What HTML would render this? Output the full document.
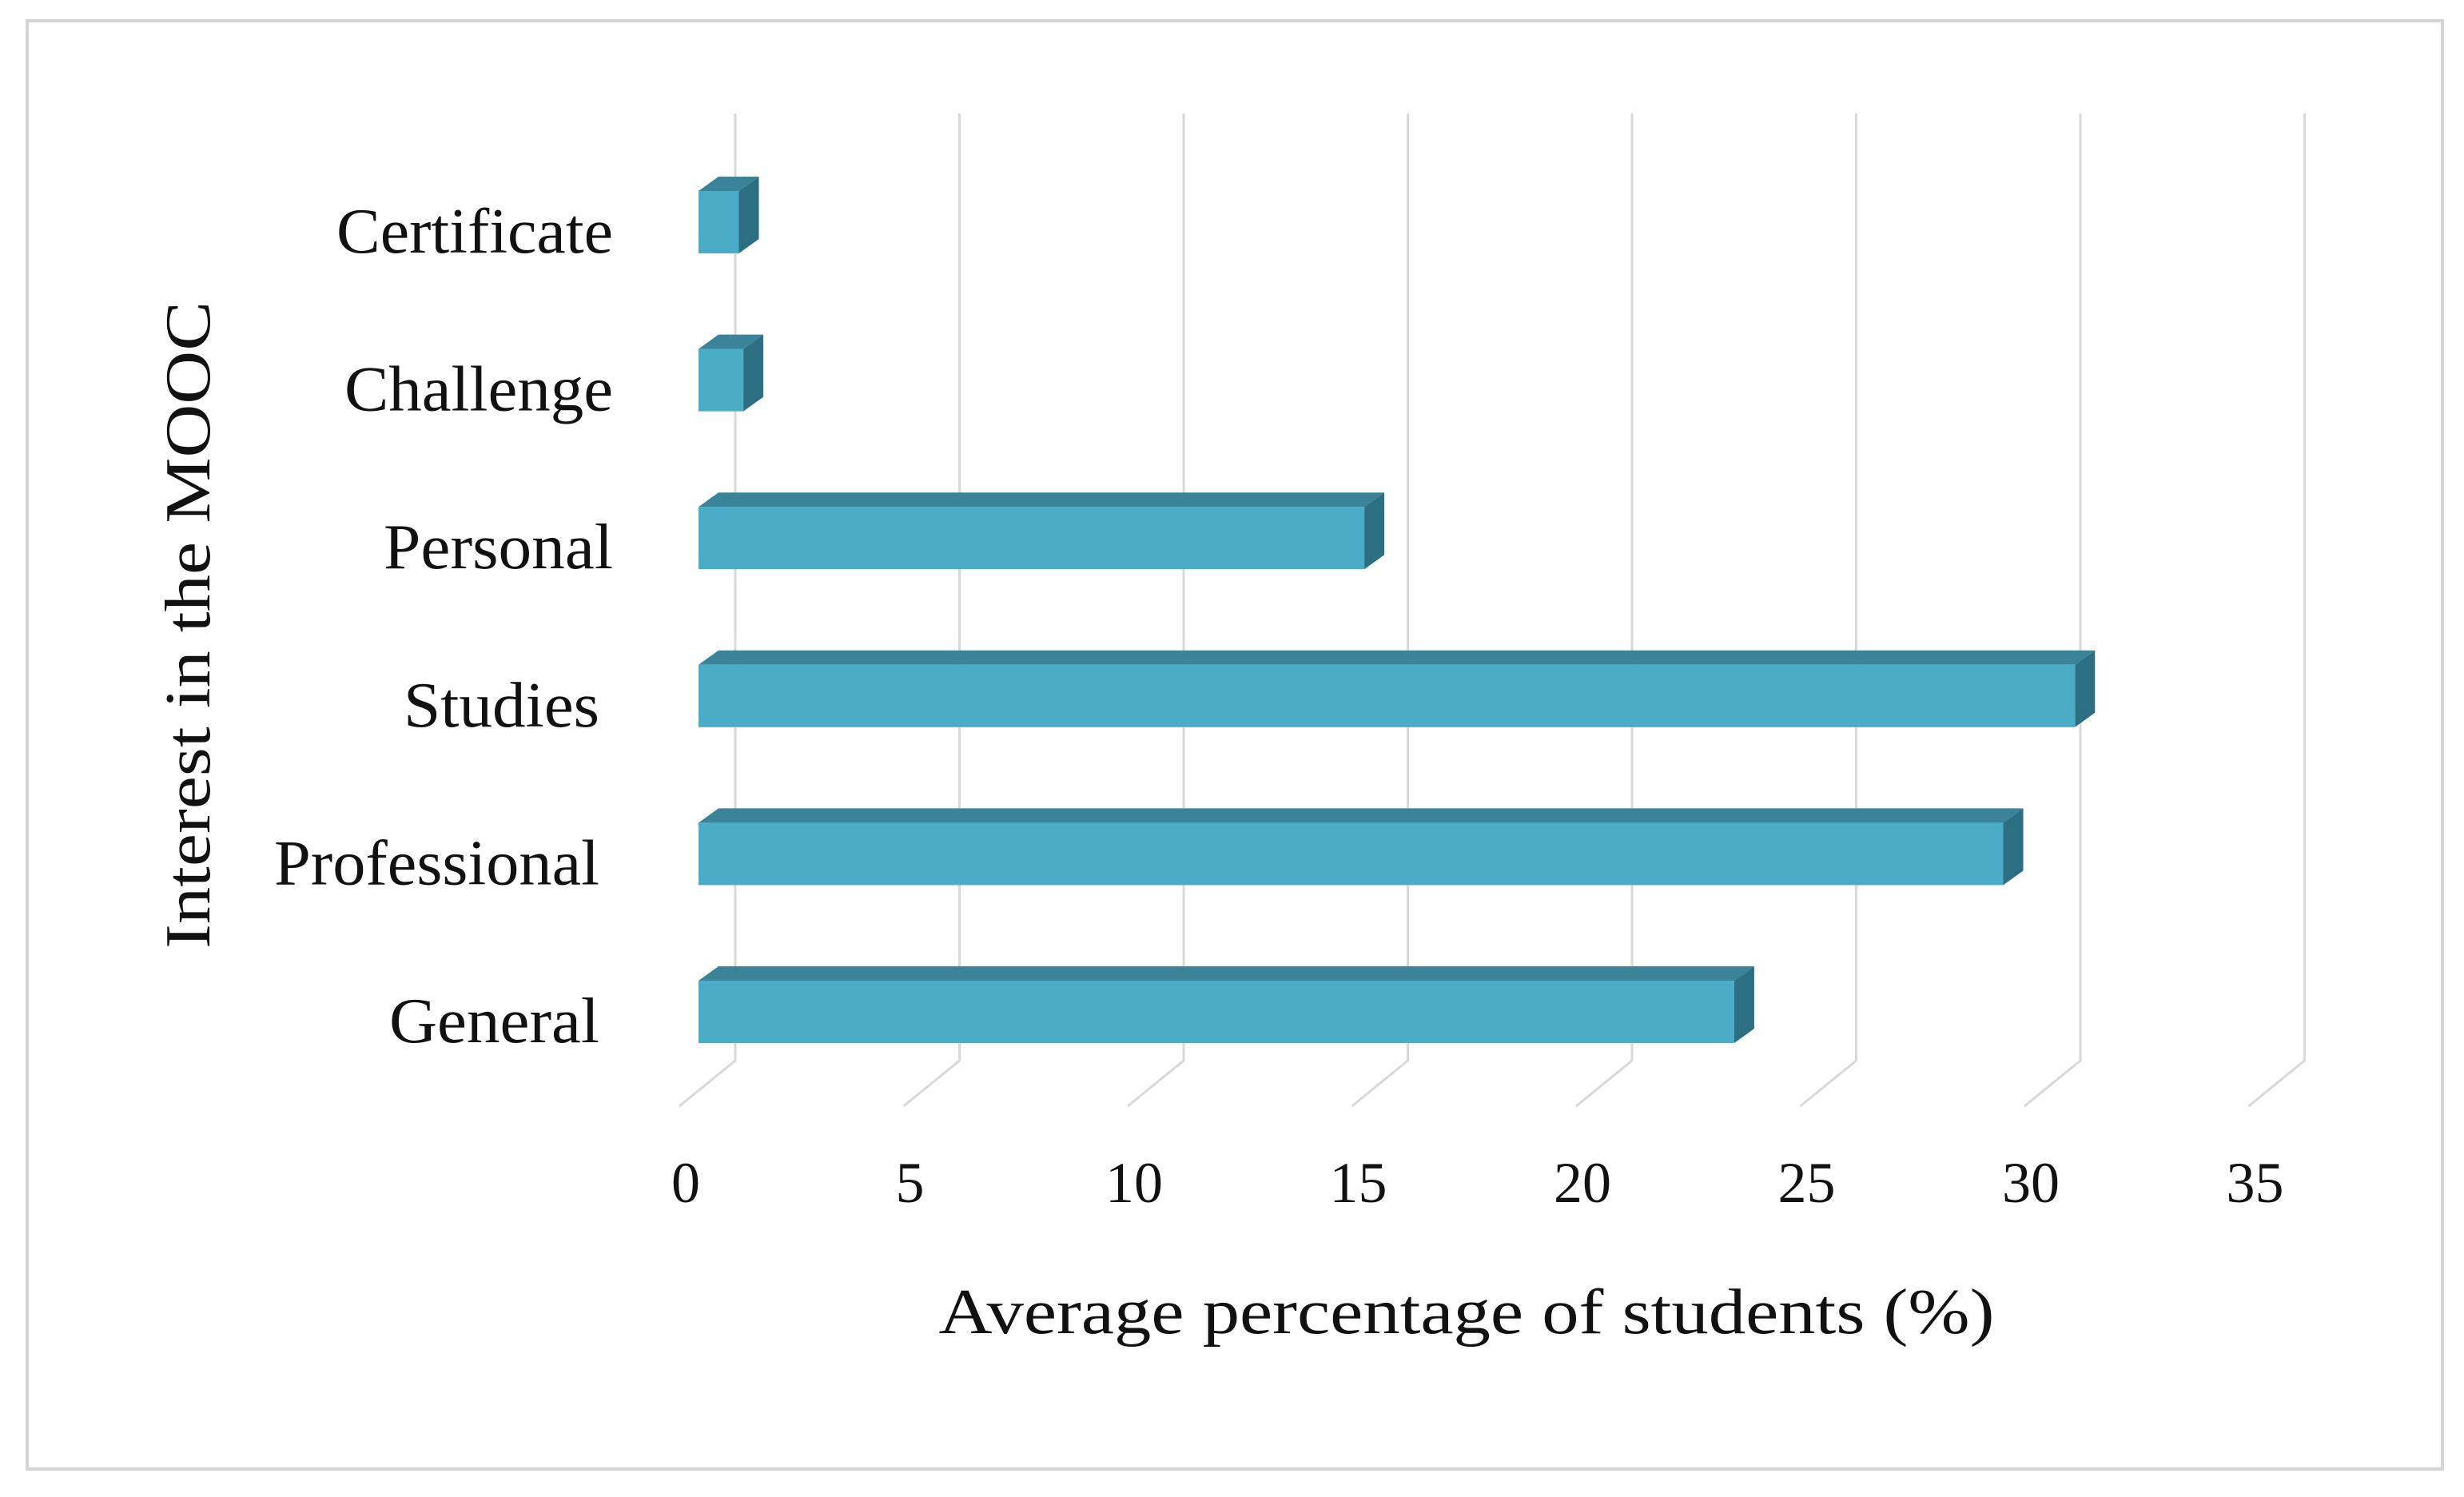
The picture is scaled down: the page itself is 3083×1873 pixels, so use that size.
<!DOCTYPE html>
<html><head><meta charset="utf-8"><style>
html,body{margin:0;padding:0;background:#fff;}
svg{display:block;}
text{font-family:"Liberation Serif",serif;fill:#111;}
</style></head><body>
<svg id="chart" width="3083" height="1873" viewBox="0 0 3083 1873" xmlns="http://www.w3.org/2000/svg">
<rect x="34" y="26" width="3022" height="1812" fill="#fff" stroke="#d4d4d4" stroke-width="4"/>
<g id="grid"></g>
<g id="bars"></g>
<g id="labels"></g>
<text transform="translate(262,782) rotate(-90)" text-anchor="middle" font-size="80" textLength="810" lengthAdjust="spacingAndGlyphs">Interest in the MOOC</text>
<text x="1835" y="1668" text-anchor="middle" font-size="80" textLength="1321" lengthAdjust="spacingAndGlyphs">Average percentage of students (%)</text>
</svg>
<script>
const categories = ["Certificate","Challenge","Personal","Studies","Professional","General"];
const values = [0.9, 1.0, 14.85, 30.7, 29.1, 23.1];
const ticks = [0,5,10,15,20,25,30,35];
const labelRight = [767,767,767,750,750,750];
const labelWidth = [346,336,287,245,407,263];

const NS = "http://www.w3.org/2000/svg";
const unit = 56.1;
const xFront = v => 874 + v*unit;
const xFloor = v => 850 + v*unit;
const xBack = v => 920 + v*unit;
const yRow = i => 239 + i*197.6;
const barH = 78, dx = 25, dy = 18;

function mk(tag, attrs, parent){
  const el = document.createElementNS(NS, tag);
  for (const k in attrs) el.setAttribute(k, attrs[k]);
  parent.appendChild(el);
  return el;
}
const grid = document.getElementById('grid');
const bars = document.getElementById('bars');
const labels = document.getElementById('labels');

ticks.forEach(t => {
  const pl = mk('polyline', {points:`${xBack(t)},142 ${xBack(t)},1327 ${xFloor(t)},1384`, fill:'none', stroke:'#d9d9d9', 'stroke-width':3}, grid);
  
  
  const tx = mk('text', {x:xFloor(t)+8, y:1504, 'text-anchor':'middle', 'font-size':72}, labels);
  tx.textContent = t;
  
  
});

categories.forEach((c, i) => {
  const yt = yRow(i), x0 = xFront(0), xv = xFront(values[i]);
  const g = mk('g', {}, bars);
  
  
  mk('polygon', {points:`${x0},${yt} ${x0+dx},${yt-dy} ${xv+dx},${yt-dy} ${xv},${yt}`, fill:'#3a8399'}, g);
  mk('polygon', {points:`${xv},${yt} ${xv+dx},${yt-dy} ${xv+dx},${yt+barH-dy} ${xv},${yt+barH}`, fill:'#2c6f82'}, g);
  mk('rect', {x:x0, y:yt, width:xv-x0, height:barH, fill:'#4aacc6'}, g);
  const tx = mk('text', {x:labelRight[i], y:yt+barH/2+38, 'text-anchor':'end', 'font-size':80, textLength:labelWidth[i], lengthAdjust:'spacingAndGlyphs'}, labels);
  tx.textContent = c;
  
  
});
</script>
</body></html>
